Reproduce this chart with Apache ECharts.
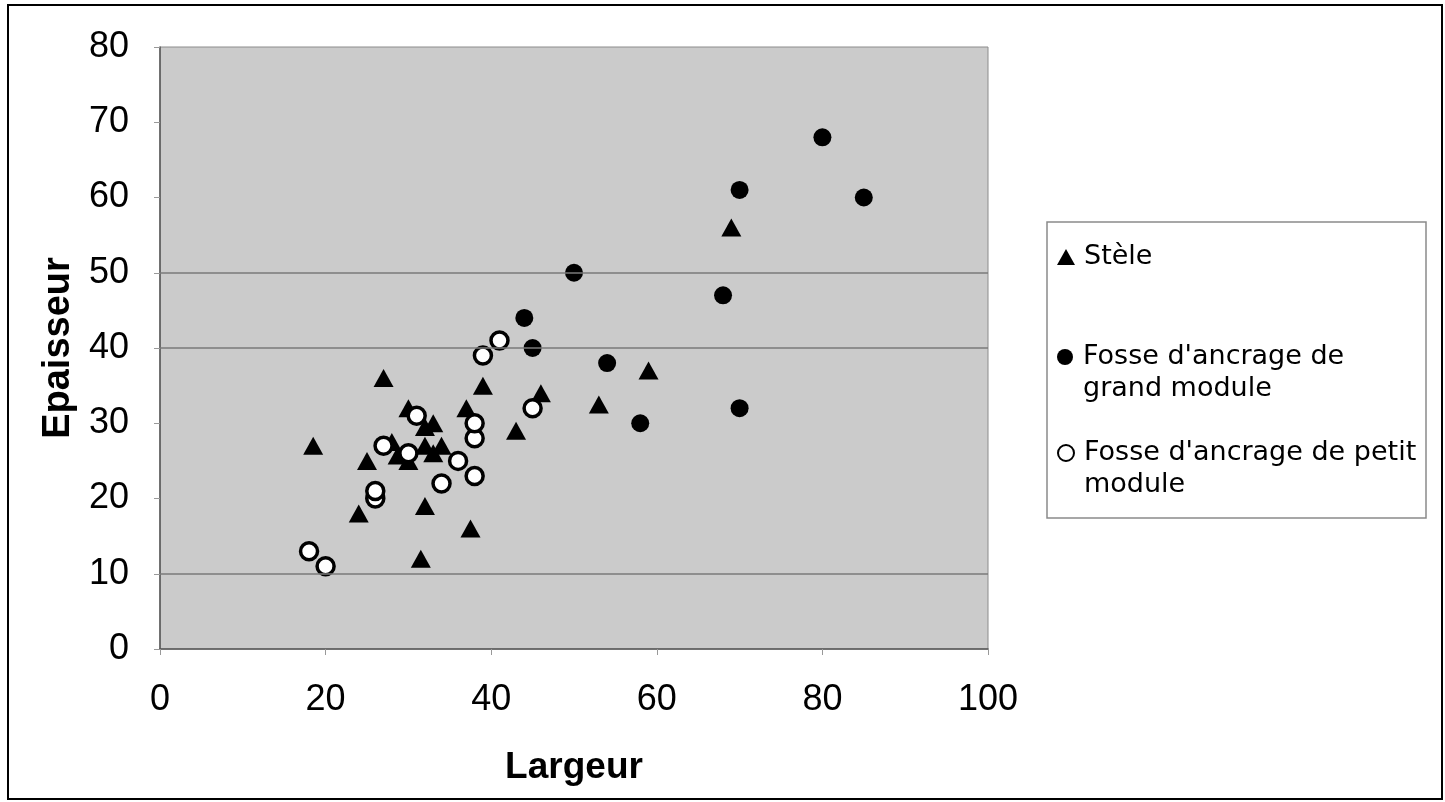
<!DOCTYPE html>
<html>
<head>
<meta charset="utf-8">
<script src="https://cdn.jsdelivr.net/npm/echarts@6/dist/echarts.min.js"></script>
<style>html,body{margin:0;padding:0;background:#fff}#c{width:1445px;height:802px}</style>
</head>
<body>
<div id="c"></div>
<script>
// ---- data ----
const steleData = [[18.5,27],[24,18],[25,25],[27,36],[28,27.5],[28.7,25.7],[30,25],[30,32],[31.5,12],[32,19],[32,27],[32,29.5],[33,26],[33,30],[34,27],[37,32],[37.5,16],[39,35],[43,29],[46,34],[53,32.5],[59,37],[69,56]];
const grandData = [[44,44],[45,40],[50,50],[54,38],[58,30],[68,47],[70,61],[70,32],[80,68],[85,60]];
const petitData = [[18,13],[20,11],[26,20],[26,21],[27,27],[30,26],[31,31],[34,22],[36,25],[38,23],[38,28],[38,30],[39,39],[41,41],[45,32]];
const seriesNames = ['Stèle', "Fosse d'ancrage de grand module", "Fosse d'ancrage de petit module"];
const legendLabels = ['Stèle', "Fosse d'ancrage de\ngrand module", "Fosse d'ancrage de petit\nmodule"];
const xAxisTitle = 'Largeur';
const yAxisTitle = 'Epaisseur';
const xRange = [0, 100, 20];
const yRange = [0, 80, 10];
const gridLineValues = [10, 40, 50];

const FONT = "'Liberation Sans', Arial, Helvetica, sans-serif";
const LFONT = "'DejaVu Sans', 'Liberation Sans', sans-serif";
const chart = echarts.init(document.getElementById('c'), null, {renderer: 'canvas'});

function legendCfg(i, top, multi) {
  return {
    data: [seriesNames[i]],
    left: 1057, top: top, orient: 'vertical', padding: 0,
    itemWidth: 18, itemHeight: 16, itemGap: 0, selectedMode: false,
    // multi-line labels: an empty first line keeps the marker level with the first text line
    formatter: () => (multi ? '\n' : '') + legendLabels[i],
    textStyle: {fontFamily: LFONT, fontSize: 27, color: '#000', lineHeight: 32, padding: [0, 0, 0, 4]}
  };
}

chart.setOption({
  animation: false,
  backgroundColor: '#fff',
  grid: {left: 160, right: 457, top: 47, bottom: 153, show: true,
    backgroundColor: '#cbcbcb', borderColor: '#8c8c8c', borderWidth: 1},
  xAxis: {
    type: 'value', min: xRange[0], max: xRange[1], interval: xRange[2],
    name: xAxisTitle, nameLocation: 'middle', nameGap: 100,
    nameTextStyle: {fontFamily: FONT, fontSize: 37, fontWeight: 'bold', color: '#000'},
    axisLine: {show: true, lineStyle: {color: '#555', width: 1.5}},
    axisTick: {show: true, length: 6, lineStyle: {color: '#999'}},
    axisLabel: {fontFamily: FONT, fontSize: 36, color: '#000', margin: 33},
    splitLine: {show: false}
  },
  yAxis: {
    type: 'value', min: yRange[0], max: yRange[1], interval: yRange[2],
    name: yAxisTitle, nameLocation: 'middle', nameGap: 82,
    nameTextStyle: {fontFamily: FONT, fontSize: 38, fontWeight: 'bold', color: '#000'},
    axisLine: {show: true, lineStyle: {color: '#555', width: 1.5}},
    axisTick: {show: true, length: 6, lineStyle: {color: '#999'}},
    axisLabel: {fontFamily: FONT, fontSize: 36, color: '#000', margin: 31},
    splitLine: {show: false}
  },
  legend: [legendCfg(0, 241, false), legendCfg(1, 309, true), legendCfg(2, 405, true)],
  graphic: [
    {type: 'rect', z: 0, shape: {x: 1047, y: 222, width: 379, height: 296},
     style: {fill: '#fff', stroke: '#8a8a8a', lineWidth: 1.5}},
    {type: 'rect', z: 100, shape: {x: 8, y: 5, width: 1434, height: 794},
     style: {fill: 'none', stroke: '#000', lineWidth: 2}}
  ],
  series: [
    {type: 'scatter', name: seriesNames[0], data: steleData, symbol: 'triangle', symbolSize: [20, 18],
     itemStyle: {color: '#000', opacity: 1},
     markLine: {silent: true, symbol: 'none', label: {show: false},
       lineStyle: {color: '#7a7a7a', type: 'solid', width: 1.5},
       data: gridLineValues.map(v => ({yAxis: v}))}},
    {type: 'scatter', name: seriesNames[1], data: grandData, symbol: 'circle', symbolSize: 18,
     itemStyle: {color: '#000', opacity: 1}},
    {type: 'scatter', name: seriesNames[2], data: petitData, symbol: 'circle', symbolSize: 17,
     itemStyle: {color: '#fff', borderColor: '#000', borderWidth: 3.5, opacity: 1}}
  ]
});
</script>
</body>
</html>
